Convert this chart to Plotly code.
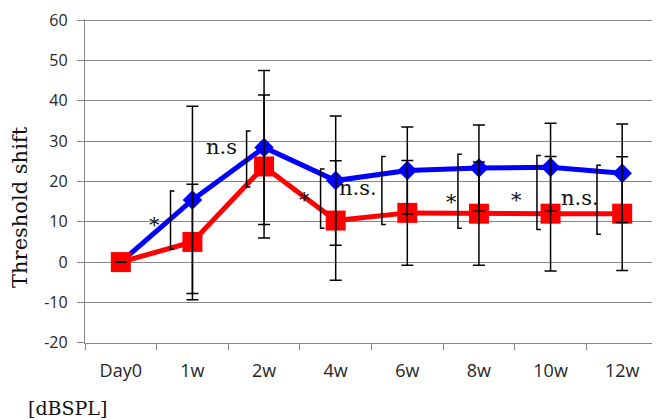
import plotly.graph_objects as go

categories = ["Day0", "1w", "2w", "4w", "6w", "8w", "10w", "12w"]
blue_vals = [0, 15.4, 28.4, 20.2, 22.7, 23.3, 23.5, 22.0]
blue_err = [0, 23.2, 19.1, 16.0, 10.8, 10.7, 10.9, 12.2]
red_vals = [0, 5.0, 23.7, 10.3, 12.2, 12.0, 12.0, 12.0]
red_err = [0, 14.3, 17.7, 14.8, 13.0, 12.8, 14.2, 14.1]

y_ticks = [-20, -10, 0, 10, 20, 30, 40, 50, 60]
y_ticktext = ["-20", "-10", "0", "10", "20", "30", "40", "50", "60"]

# significance labels: text, x (category index), y
sig_text = ["*", "n.s", "*", "n.s.", "*", "*", "n.s."]
sig_x = [0.47, 1.40, 2.56, 3.31, 4.61, 5.52, 6.41]
sig_y = [9.3, 28.6, 15.3, 18.4, 14.8, 15.3, 16.0]

# brackets: x (category index), top, bottom
br_x = [0.694, 1.756, 2.789, 3.645, 4.707, 5.81, 6.648]
br_top = [17.6, 32.5, 23.1, 26.2, 26.7, 26.4, 24.0]
br_bot = [3.2, 18.6, 8.4, 9.3, 8.4, 8.1, 6.9]

serif = "DejaVu Serif"
grid_color = "#888888"

fig = go.Figure()
fig.add_trace(go.Scatter(
    x=categories, y=blue_vals, mode="lines+markers",
    line=dict(color="#0000FF", width=5),
    marker=dict(symbol="diamond", size=15, color="#0000FF"),
    showlegend=False))
fig.add_trace(go.Scatter(
    x=categories, y=red_vals, mode="lines+markers",
    line=dict(color="#FF0000", width=5),
    marker=dict(symbol="square", size=20, color="#FF0000"),
    showlegend=False))
for vals, errs in [(blue_vals, blue_err), (red_vals, red_err)]:
    fig.add_trace(go.Scatter(
        x=categories, y=vals, mode="markers",
        marker=dict(size=2, color="rgba(0,0,0,0)"),
        error_y=dict(type="data", array=errs, visible=True,
                     color="black", thickness=1.5, width=6),
        showlegend=False))

arm = 0.055
for bx, t, b in zip(br_x, br_top, br_bot):
    fig.add_shape(type="path",
                  path=f"M {bx+arm} {t} L {bx} {t} L {bx} {b} L {bx+arm} {b}",
                  xref="x", yref="y", line=dict(color="black", width=1.5))

for txt, sx, sy in zip(sig_text, sig_x, sig_y):
    fig.add_annotation(x=sx, y=sy, xref="x", yref="y", text=txt,
                       showarrow=False, xanchor="center", yanchor="middle",
                       font=dict(family=serif, size=21, color="#111"))

fig.add_annotation(x=-0.1134, y=0.42, xref="paper", yref="paper",
                   text="Threshold shift", textangle=-90, showarrow=False,
                   xanchor="center", yanchor="middle",
                   font=dict(family=serif, size=21, color="#111"))
fig.add_annotation(x=-0.0297, y=-0.2, xref="paper", yref="paper",
                   text="[dBSPL]", showarrow=False,
                   xanchor="center", yanchor="middle",
                   font=dict(family=serif, size=19, color="#111"))

fig.update_layout(
    width=660, height=420,
    margin=dict(l=77, r=10, t=11, b=85),
    plot_bgcolor="white", paper_bgcolor="white",
    xaxis=dict(type="category", categoryorder="array", categoryarray=categories,
               range=[-0.5, 7.5], tickson="boundaries", ticks="outside",
               ticklen=6, tickcolor=grid_color, tickwidth=1.3,
               ticklabelstandoff=11, automargin=False,
               showline=True, linecolor=grid_color, linewidth=1.3,
               showgrid=False, zeroline=False,
               tickfont=dict(family="Open Sans", size=18, color="#262626")),
    yaxis=dict(range=[-20.05, 60.25], tickvals=y_ticks, ticktext=y_ticktext,
               ticks="outside", ticklen=7, ticklabelstandoff=6,
               ticklabeloverflow="allow", automargin=False,
               tickcolor=grid_color, tickwidth=1.3,
               showline=True, linecolor=grid_color, linewidth=1.3,
               showgrid=True, gridcolor=grid_color, gridwidth=1.3,
               zeroline=False,
               tickfont=dict(family="Open Sans", size=16, color="#262626")),
)

fig.write_html("out.html")
